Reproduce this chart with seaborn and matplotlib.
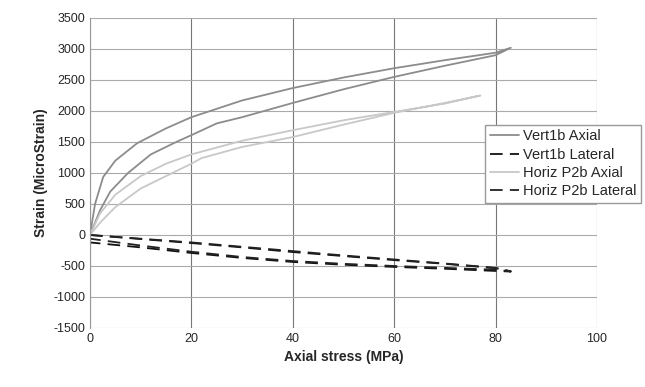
import numpy as np
import pandas as pd
import matplotlib
matplotlib.use("Agg")
import matplotlib.pyplot as plt
import seaborn as sns

# stress (MPa) / strain (microstrain), loading then unloading for each gauge
vert_ax_x = [0, 2, 4, 7.5, 12, 17, 20, 25, 30, 40, 50, 60, 70, 80, 83,
             80, 70, 60, 50, 40, 30, 20, 15, 9.3, 5, 2.6, 1, 0]
vert_ax_y = [0, 400, 700, 1000, 1300, 1500, 1610, 1800, 1900, 2130, 2350, 2550, 2730, 2900, 3020,
             2940, 2820, 2690, 2540, 2370, 2170, 1900, 1720, 1480, 1200, 935, 500, 0]

horiz_ax_x = [0, 2, 5, 10, 15, 20, 22, 30, 40, 50, 60, 70, 77,
              70, 60, 50, 40, 30, 20, 15, 10, 5, 2, 0]
horiz_ax_y = [0, 200, 450, 750, 950, 1150, 1240, 1420, 1580, 1780, 1970, 2130, 2250,
              2120, 1985, 1850, 1690, 1520, 1300, 1150, 950, 650, 350, 0]

vert_lat_x = [0, 10, 20, 30, 40, 50, 60, 70, 80, 83,
              80, 70, 60, 50, 40, 30, 20, 10, 0]
vert_lat_y = [0, -65, -130, -200, -275, -340, -405, -465, -535, -590,
              -580, -545, -515, -480, -435, -370, -290, -200, -120]

horiz_lat_x = [0, 10, 20, 30, 40, 50, 60, 70, 80, 83,
               80, 70, 60, 50, 40, 30, 20, 10, 0]
horiz_lat_y = [0, -60, -120, -190, -260, -330, -395, -460, -530, -585,
               -560, -530, -500, -465, -420, -355, -270, -170, -60]

series = [
    ("Vert1b Axial", vert_ax_x, vert_ax_y, "#8c8c8c", "-"),
    ("Vert1b Lateral", vert_lat_x, vert_lat_y, "#111111", (0, (7, 4))),
    ("Horiz P2b Axial", horiz_ax_x, horiz_ax_y, "#c8c8c8", "-"),
    ("Horiz P2b Lateral", horiz_lat_x, horiz_lat_y, "#222222", (0, (7, 4))),
]

sns.set_style("white")
plt.rcParams["font.family"] = ["Liberation Sans", "DejaVu Sans"]
plt.rcParams["axes.unicode_minus"] = False

fig, ax = plt.subplots(figsize=(6.45, 3.87), dpi=100)
fig.subplots_adjust(left=0.1395, right=0.9256, top=0.9535, bottom=0.1525)

for name, xs, ys, col, ls in series:
    df = pd.DataFrame({"stress": xs, "strain": ys})
    sns.lineplot(data=df, x="stress", y="strain", sort=False, estimator=None,
                 color=col, linestyle=ls, linewidth=1.3, label=name, ax=ax)

ax.set_xlim(0, 100)
ax.set_ylim(-1500, 3500)
ax.set_xticks(np.arange(0, 101, 20))
ax.set_yticks(np.arange(-1500, 3501, 500))
ax.grid(True, axis="y", color="#aaaaaa", linewidth=0.8)
ax.grid(True, axis="x", color="#777777", linewidth=0.8)
for s in ax.spines.values():
    s.set_visible(False)
ax.spines["left"].set_visible(True)
ax.spines["left"].set_color("#999999")
ax.tick_params(labelsize=9, length=0)
ax.set_xlabel("Axial stress (MPa)", fontsize=10, fontweight="bold")
ax.set_ylabel("Strain (MicroStrain)", fontsize=10, fontweight="bold")

leg = ax.legend(loc="upper left", bbox_to_anchor=(0.78, 0.655), fontsize=10.5,
                frameon=True, fancybox=False, borderpad=0.3, labelspacing=0.3,
                handlelength=2.0, handletextpad=0.3, borderaxespad=0)
leg.get_frame().set_edgecolor("#999999")
leg.get_frame().set_alpha(1)

plt.savefig("out.png", dpi=100)
